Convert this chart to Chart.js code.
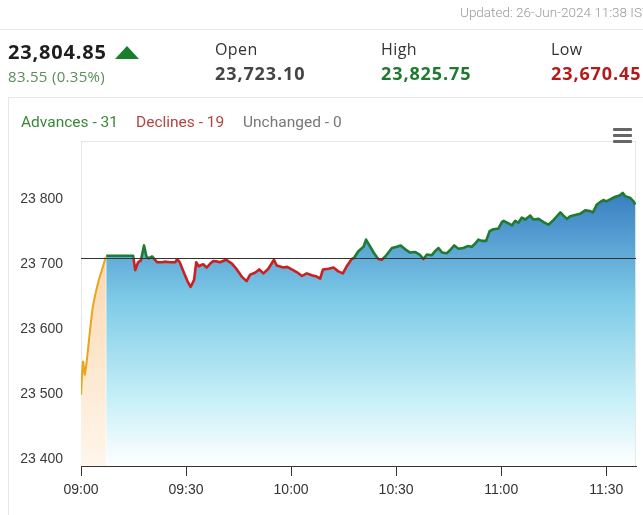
<!DOCTYPE html>
<html lang="en">
<head>
    <meta charset="UTF-8">
    <title>NIFTY 50 intraday</title>
    <script src="https://cdn.jsdelivr.net/npm/chart.js"></script>
    <style>
        body {
            margin: 0;
            width: 643px;
            height: 515px;
            overflow: hidden;
            background: #fff;
            position: relative;
            font-family: "Open Sans", Arial, sans-serif;
        }
        canvas { position: absolute; left: 0; top: 0; }
        .abs { position: absolute; white-space: nowrap; }
        .updated { left: 460px; top: 4px; font: 300 13.5px Roboto, sans-serif; color: #9a9a9a; }
        .hline { position: absolute; height: 1px; background: #e6e6e6; }
        .vline { position: absolute; width: 1px; background: #e6e6e6; }
        .last { left: 8px; top: 38px; font-weight: 700; font-size: 20px; letter-spacing: 0.8px; color: #1e1e1e; }
        .tri { left: 115px; top: 46px; width: 0; height: 0; border-left: 12px solid transparent; border-right: 12px solid transparent; border-bottom: 13px solid #1a7f2a; }
        .chg { left: 8px; top: 66px; font-size: 15px; letter-spacing: 0.3px; color: #5b8c5b; }
        .lbl { top: 38px; font-size: 16px; letter-spacing: 0.4px; color: #333; }
        .val { top: 61px; font-weight: 700; font-size: 18px; letter-spacing: 0.9px; }
        .legend { top: 113px; font: 15.5px Roboto, sans-serif; }
        .menu { left: 613px; width: 19px; height: 3px; background: #666; border-radius: 1px; }
    </style>
</head>
<body>
<canvas id="grafico" width="643" height="515"></canvas>

<div class="abs updated">Updated: 26-Jun-2024 11:38 IST</div>
<div class="hline" style="left:0; top:29px; width:643px;"></div>

<div class="abs last">23,804.85</div>
<div class="abs tri"></div>
<div class="abs chg">83.55 (0.35%)</div>

<div class="abs lbl" style="left:215px;">Open</div>
<div class="abs val" style="left:215px; color:#444;">23,723.10</div>
<div class="abs lbl" style="left:381px;">High</div>
<div class="abs val" style="left:381px; color:#1f7a30;">23,825.75</div>
<div class="abs lbl" style="left:551px;">Low</div>
<div class="abs val" style="left:551px; color:#b31b1b;">23,670.45</div>

<div class="hline" style="left:8px; top:97px; width:635px;"></div>
<div class="vline" style="left:8px; top:97px; height:418px;"></div>

<div class="abs legend" style="left:21px; color:#3a873a;">Advances - 31</div>
<div class="abs legend" style="left:136px; color:#b5443f;">Declines - 19</div>
<div class="abs legend" style="left:243px; color:#777;">Unchanged - 0</div>

<div class="abs menu" style="top:128px;"></div>
<div class="abs menu" style="top:134px;"></div>
<div class="abs menu" style="top:140px;"></div>

<script>
    // minutes after 09:00
    const preOpenTimes = [0, 0.6, 1.1, 2.6, 3.4, 4.9, 6.3, 7.1];
    const preOpenValues = [23499, 23550, 23530, 23599, 23635, 23672, 23697, 23711];

    const sessionTimes = [
        7.2, 14.9, 15.5, 16.3, 17.1, 18.0, 18.7, 19.3, 20.3, 21.1, 21.8, 23.1, 24.3, 25.4, 26.9, 27.5, 28.2,
        29.4, 30.4, 31.3, 32.3, 32.9, 33.6, 34.0, 34.9, 35.9, 36.9, 37.8, 39.1, 39.7, 41.4, 43.1, 44.5,
        45.9, 47.3, 48.3, 49.7, 50.9, 52.1, 53.5, 55.1, 55.9, 57.8, 58.9, 60.2, 61.6, 63.1, 64.5, 65.9,
        67.3, 68.3, 69.1, 70.7, 72.1, 73.5, 74.8, 75.9, 77.3, 78.0, 79.2, 80.7, 81.4, 82.6, 83.7, 84.9,
        85.9, 86.9, 88.8, 90.2, 91.3, 92.6, 94.0, 95.4, 96.7, 97.8, 98.8, 100.2, 101.1, 102.1, 103.1,
        104.5, 105.6, 106.6, 107.8, 109.2, 110.4, 111.6, 112.6, 113.5, 114.5, 115.7, 116.7, 117.8, 119.2,
        120.2, 120.7, 122.1, 123.1, 124.0, 124.9, 125.9, 126.9, 128.3, 129.2, 130.7, 132.1, 133.5, 134.9,
        135.9, 136.9, 137.8, 138.8, 139.7, 141.1, 142.6, 144.0, 145.4, 146.2, 147.3, 148.3, 149.2, 150.0,
        151.1, 152.6, 153.8, 154.7, 155.4, 156.9, 157.8, 158.3
    ];
    const sessionValues = [
        23713, 23713, 23691, 23703, 23706, 23729, 23712, 23709, 23712, 23707, 23703, 23703, 23704, 23703, 23703, 23708, 23703,
        23687, 23674, 23665, 23676, 23703, 23697, 23698, 23700, 23695, 23701, 23705, 23704, 23703, 23707, 23701, 23692,
        23681, 23674, 23684, 23687, 23692, 23686, 23693, 23707, 23698, 23695, 23696, 23692, 23688, 23682, 23686, 23683,
        23681, 23678, 23692, 23693, 23695, 23689, 23686, 23697, 23708, 23710, 23720, 23727, 23738, 23727, 23717, 23708,
        23707, 23712, 23725, 23727, 23729, 23723, 23718, 23719, 23715, 23708, 23715, 23714, 23720, 23725, 23718,
        23717, 23723, 23729, 23724, 23725, 23728, 23727, 23732, 23738, 23736, 23736, 23751, 23754, 23755,
        23765, 23767, 23763, 23760, 23767, 23764, 23772, 23769, 23775, 23769, 23770, 23765, 23761, 23768,
        23774, 23780, 23775, 23770, 23774, 23776, 23778, 23783, 23782, 23780, 23792, 23796, 23799, 23797,
        23800, 23804, 23806, 23810, 23805, 23802, 23797, 23792
    ];

    const prevClose = 23710;           // reference line
    const xTicks = [0, 30, 60, 90, 120, 150];
    const yTicks = [23400, 23500, 23600, 23700, 23800];

    const verde = '#1e7b30';
    const vermelho = '#cc1f1f';

    function horaLabel(m) {
        const h = 9 + Math.floor(m / 60);
        const mm = m % 60;
        return String(h).padStart(2, '0') + ':' + String(mm).padStart(2, '0');
    }

    // line colour: green above previous close, red below
    function corLinha(context) {
        const chart = context.chart;
        const area = chart.chartArea;
        if (!area) return verde;
        const y = chart.scales.y.getPixelForValue(prevClose);
        let f = (y + 0.5 - area.top) / (area.bottom - area.top);
        f = Math.min(Math.max(f, 0), 1);
        const g = chart.ctx.createLinearGradient(0, area.top, 0, area.bottom);
        g.addColorStop(0, verde);
        g.addColorStop(f, verde);
        g.addColorStop(f, vermelho);
        g.addColorStop(1, vermelho);
        return g;
    }

    function fundoAzul(context) {
        const area = context.chart.chartArea;
        if (!area) return 'rgba(80,160,220,0.6)';
        const g = context.chart.ctx.createLinearGradient(0, area.top, 0, area.bottom);
        g.addColorStop(0, '#2f70b8');
        g.addColorStop(0.17, '#3b80c3');
        g.addColorStop(0.49, '#7ecbe7');
        g.addColorStop(0.8, '#c8f0f8');
        g.addColorStop(1, '#ffffff');
        return g;
    }

    function fundoLaranja(context) {
        const area = context.chart.chartArea;
        if (!area) return '#fde3c6';
        const g = context.chart.ctx.createLinearGradient(0, area.top, 0, area.bottom);
        g.addColorStop(0, '#f9c58c');
        g.addColorStop(0.45, '#fcdcb8');
        g.addColorStop(1, '#fff6ec');
        return g;
    }

    const linhaBase = {
        id: 'linhaBase',
        beforeDraw(chart) {
            const { ctx, chartArea: a } = chart;
            ctx.save();
            ctx.strokeStyle = '#e6e6e6';
            ctx.lineWidth = 1;
            ctx.strokeRect(a.left + 0.5, a.top + 0.5, a.right - a.left - 1, a.bottom - a.top);
            ctx.restore();
        },
        afterDatasetsDraw(chart) {
            const { ctx, chartArea: a } = chart;
            const y = Math.round(chart.scales.y.getPixelForValue(prevClose)) + 0.5;
            ctx.save();
            ctx.strokeStyle = '#333';
            ctx.lineWidth = 1;
            ctx.beginPath();
            ctx.moveTo(a.left, y);
            ctx.lineTo(a.right, y);
            ctx.stroke();
            ctx.restore();
        }
    };

    const ctx = document.getElementById('grafico').getContext('2d');
    new Chart(ctx, {
        type: 'line',
        data: {
            datasets: [{
                label: 'Pre-open',
                data: preOpenTimes.map((t, i) => ({ x: t, y: preOpenValues[i] })),
                borderColor: '#e8a51d',
                borderWidth: 2,
                backgroundColor: fundoLaranja,
                fill: 'start',
                pointRadius: 0,
                tension: 0.3
            }, {
                label: 'NIFTY 50',
                data: sessionTimes.map((t, i) => ({ x: t, y: sessionValues[i] })),
                borderColor: corLinha,
                borderWidth: 2.6,
                borderJoinStyle: 'round',
                backgroundColor: fundoAzul,
                fill: 'start',
                pointRadius: 0,
                tension: 0
            }]
        },
        options: {
            responsive: false,
            animation: false,
            layout: { padding: { left: 0, right: 7, top: 141, bottom: 9 } },
            plugins: {
                legend: { display: false },
                tooltip: { enabled: false }
            },
            scales: {
                x: {
                    type: 'linear',
                    min: 0,
                    max: 158.5,
                    afterBuildTicks: s => { s.ticks = xTicks.map(v => ({ value: v })); },
                    afterFit: s => { s.height = 40; },
                    border: { display: true, color: '#333', width: 1 },
                    grid: { display: true, drawOnChartArea: false, drawTicks: true, tickLength: 10, color: '#333' },
                    ticks: {
                        callback: v => horaLabel(v),
                        color: '#333',
                        padding: 6,
                        maxRotation: 0,
                        font: { family: '"Liberation Sans", Arial, sans-serif', size: 14 }
                    }
                },
                y: {
                    min: 23389,
                    max: 23890,
                    afterBuildTicks: s => { s.ticks = yTicks.map(v => ({ value: v })); },
                    afterFit: s => { s.width = 81; },
                    border: { display: false },
                    grid: { display: false, drawTicks: false },
                    ticks: {
                        callback: v => String(v).replace(/\B(?=(\d{3})+(?!\d))/g, ' '),
                        color: '#3b3b3b',
                        padding: 18,
                        font: { family: '"Liberation Sans", Arial, sans-serif', size: 14 }
                    }
                }
            }
        },
        plugins: [linhaBase]
    });
</script>
</body>
</html>
